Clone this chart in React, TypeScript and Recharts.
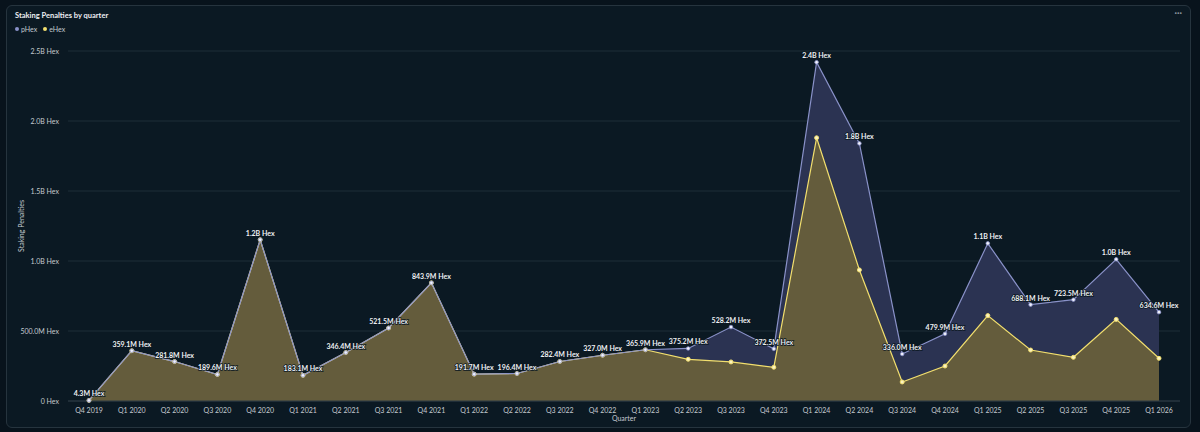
import React from "react";
import {
  Area,
  CartesianGrid,
  ComposedChart,
  LabelList,
  Line,
  XAxis,
  YAxis,
} from "recharts";

const quarters = [
  "Q4 2019",
  "Q1 2020", "Q2 2020", "Q3 2020", "Q4 2020",
  "Q1 2021", "Q2 2021", "Q3 2021", "Q4 2021",
  "Q1 2022", "Q2 2022", "Q3 2022", "Q4 2022",
  "Q1 2023", "Q2 2023", "Q3 2023", "Q4 2023",
  "Q1 2024", "Q2 2024", "Q3 2024", "Q4 2024",
  "Q1 2025", "Q2 2025", "Q3 2025", "Q4 2025",
  "Q1 2026",
];

// values in Hex
const pHex = [
  4.3e6,
  359.1e6, 281.8e6, 189.6e6, 1152e6,
  183.1e6, 346.4e6, 521.5e6, 843.9e6,
  191.7e6, 196.4e6, 282.4e6, 327.0e6,
  365.9e6, 375.2e6, 528.2e6, 372.5e6,
  2420e6, 1840e6, 336.0e6, 479.9e6,
  1126e6, 688.1e6, 723.5e6, 1012e6,
  634.6e6,
];

const eHex = [
  4.3e6,
  359.1e6, 281.8e6, 189.6e6, 1152e6,
  183.1e6, 346.4e6, 521.5e6, 843.9e6,
  191.7e6, 196.4e6, 282.4e6, 327.0e6,
  365.9e6, 298e6, 279e6, 241e6,
  1880e6, 936e6, 136e6, 250e6,
  610e6, 364e6, 312e6, 583e6,
  305e6,
];

const yTicks = [0, 5e8, 1e9, 1.5e9, 2e9, 2.5e9];

const data = quarters.map((q, i) => ({ quarter: q, pHex: pHex[i], eHex: eHex[i] }));

const P_LINE = "#8a92c9";
const P_FILL = "#2b3352";
const E_LINE = "#f2df6e";
const E_FILL = "#645c3c";
const TEXT = "#c5cad0";
const FONT = "Lato, 'Open Sans', sans-serif";

function fmtTick(v: number): string {
  if (v === 0) return "0 Hex";
  if (v >= 1e9) return `${(v / 1e9).toFixed(1)}B Hex`;
  return `${(v / 1e6).toFixed(1)}M Hex`;
}

function fmtLabel(v: number): string {
  if (v >= 1e9) return `${(v / 1e9).toFixed(1)}B Hex`;
  return `${(v / 1e6).toFixed(1)}M Hex`;
}

function YTick(props: any) {
  const { x, y, payload } = props;
  return (
    <text x={x} y={y} dy={2.5} textAnchor="end" fontSize={7} fill={TEXT} fontFamily={FONT}>
      {fmtTick(Number(payload.value))}
    </text>
  );
}

function ValueLabel(props: any) {
  const { x, y, value } = props;
  if (value == null) return null;
  return (
    <text
      x={x}
      y={y - 4}
      textAnchor="middle"
      fontSize={7}
      fontWeight={700}
      fontFamily={FONT}
      fill="#eef0f3"
      stroke="#0b1822"
      strokeWidth={1.5}
      paintOrder="stroke"
    >
      {fmtLabel(Number(value))}
    </text>
  );
}

export default function App() {
  return (
    <div
      style={{
        position: "absolute",
        left: 0,
        top: 0,
        width: 1200,
        height: 432,
        background: "#08131c",
        fontFamily: FONT,
        overflow: "hidden",
      }}
    >
      <div
        style={{
          position: "absolute",
          left: 6,
          top: 5,
          width: 1183,
          height: 421,
          background: "#0b1923",
          border: "1px solid #26343e",
          borderRadius: 6,
        }}
      />
      <div
        style={{
          position: "absolute",
          left: 15,
          top: 11,
          color: "#eef0f3",
          fontSize: 7.5,
          fontWeight: 700,
        }}
      >
        Staking Penalties by quarter
      </div>
      <div
        style={{
          position: "absolute",
          right: 18,
          top: 7,
          color: "#8c959c",
          fontSize: 9,
          fontWeight: 700,
        }}
      >
        ···
      </div>
      <div
        style={{
          position: "absolute",
          left: 15,
          top: 25,
          display: "flex",
          gap: 6,
          color: TEXT,
          fontSize: 7,
          alignItems: "center",
        }}
      >
        <span style={{ display: "flex", alignItems: "center", gap: 2 }}>
          <span style={{ width: 4, height: 4, borderRadius: 2, background: P_LINE }} />
          pHex
        </span>
        <span style={{ display: "flex", alignItems: "center", gap: 2 }}>
          <span style={{ width: 4, height: 4, borderRadius: 2, background: E_LINE }} />
          eHex
        </span>
      </div>
      <div style={{ position: "absolute", left: 0, top: 0 }}>
        <ComposedChart
          width={1200}
          height={432}
          data={data}
          margin={{ top: 51, right: 20, bottom: 11, left: 4 }}
        >
          <CartesianGrid stroke="#24333d" strokeWidth={0.8} vertical={false} />
          <XAxis
            dataKey="quarter"
            interval={0}
            padding={{ left: 21, right: 21 }}
            tick={{ fontSize: 7, fill: TEXT, fontFamily: FONT }}
            tickLine={false}
            axisLine={{ stroke: "#2c3b45" }}
            height={20}
            tickMargin={1}
            label={{
              value: "Quarter",
              position: "insideBottom",
              offset: 0,
              fontSize: 7,
              fill: TEXT,
              fontFamily: FONT,
            }}
          />
          <YAxis
            domain={[0, 2.5e9]}
            ticks={yTicks}
            tick={<YTick />}
            tickLine={false}
            axisLine={false}
            width={64}
            tickMargin={3}
            label={{
              value: "Staking Penalties",
              angle: -90,
              position: "insideLeft",
              offset: 18,
              style: { textAnchor: "middle", fontSize: 7, fill: TEXT, fontFamily: FONT },
            }}
          />
          <Area
            type="linear"
            dataKey="pHex"
            stroke="none"
            fill={P_FILL}
            fillOpacity={1}
            isAnimationActive={false}
            dot={false}
            activeDot={false}
          />
          <Area
            type="linear"
            dataKey="eHex"
            stroke="none"
            fill={E_FILL}
            fillOpacity={1}
            isAnimationActive={false}
            dot={false}
            activeDot={false}
          />
          <Line
            type="linear"
            dataKey="eHex"
            stroke={E_LINE}
            strokeWidth={1.2}
            dot={{ r: 2, fill: "#fbf3c0", stroke: E_LINE, strokeWidth: 1 }}
            activeDot={false}
            isAnimationActive={false}
          />
          <Line
            type="linear"
            dataKey="pHex"
            stroke={P_LINE}
            strokeWidth={1.2}
            dot={{ r: 1.8, fill: "#eef0fa", stroke: P_LINE, strokeWidth: 0.8 }}
            activeDot={false}
            isAnimationActive={false}
          >
            <LabelList dataKey="pHex" content={<ValueLabel />} />
          </Line>
        </ComposedChart>
      </div>
    </div>
  );
}
